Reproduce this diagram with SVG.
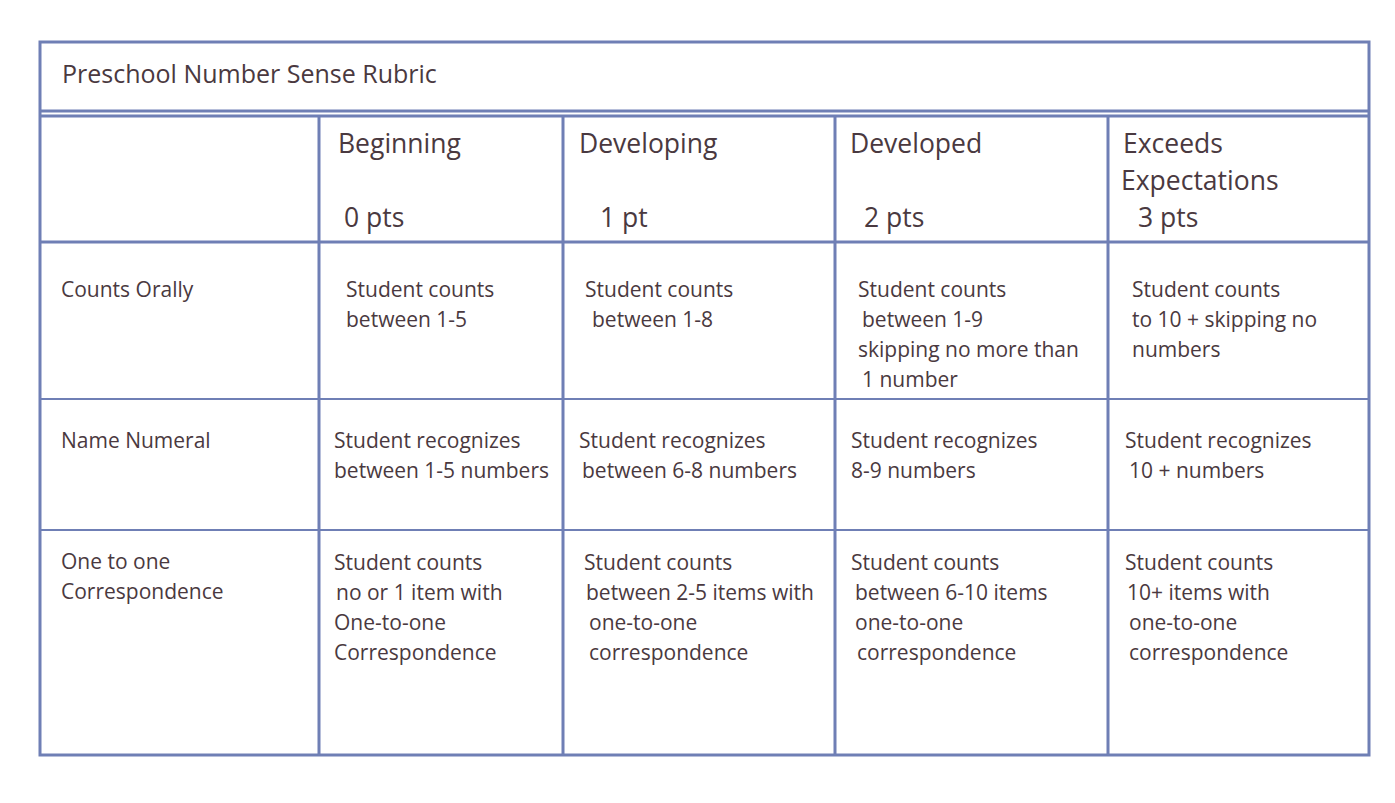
<svg xmlns="http://www.w3.org/2000/svg" width="1395" height="803" viewBox="0 0 1395 803">
<style>
.l{stroke:#6f7fb5;stroke-width:3;fill:none}
.t{font-family:"Open Sans","Liberation Sans",sans-serif;fill:#4a3940;font-size:21px}
.h{font-family:"Open Sans","Liberation Sans",sans-serif;fill:#4a3940;font-size:26.5px}
</style>
<rect width="1395" height="803" fill="#fff"/>
<rect class="l" x="40" y="42" width="1329" height="713"/>
<line class="l" x1="40" y1="111" x2="1369" y2="111"/>
<line class="l" x1="40" y1="116" x2="1369" y2="116"/>
<line class="l" x1="40" y1="242" x2="1369" y2="242"/>
<line class="l" x1="40" y1="399" x2="1369" y2="399" style="stroke-width:2"/>
<line class="l" x1="40" y1="530" x2="1369" y2="530" style="stroke-width:2"/>
<line class="l" x1="319" y1="116" x2="319" y2="755"/>
<line class="l" x1="563" y1="116" x2="563" y2="755"/>
<line class="l" x1="835" y1="116" x2="835" y2="755"/>
<line class="l" x1="1108" y1="116" x2="1108" y2="755"/>
<text class="h" x="62" y="83" style="font-size:25px">Preschool Number Sense Rubric</text>
<text class="h" x="338" y="153">Beginning</text><text class="h" x="344" y="227">0 pts</text>
<text class="h" x="579" y="153">Developing</text><text class="h" x="600" y="227">1 pt</text>
<text class="h" x="850" y="153">Developed</text><text class="h" x="864" y="227">2 pts</text>
<text class="h" x="1123" y="153">Exceeds</text><text class="h" x="1121" y="190">Expectations</text><text class="h" x="1138" y="227">3 pts</text>
<text class="t" x="61" y="297">Counts Orally</text>
<text class="t" x="346" y="297">Student counts</text><text class="t" x="346" y="327">between 1-5</text>
<text class="t" x="585" y="297">Student counts</text><text class="t" x="592" y="327">between 1-8</text>
<text class="t" x="858" y="297">Student counts</text><text class="t" x="862" y="327">between 1-9</text><text class="t" x="858" y="357">skipping no more than</text><text class="t" x="862" y="387">1 number</text>
<text class="t" x="1132" y="297">Student counts</text><text class="t" x="1132" y="327">to 10 + skipping no</text><text class="t" x="1132" y="357">numbers</text>
<text class="t" x="61" y="448">Name Numeral</text>
<text class="t" x="334" y="448">Student recognizes</text><text class="t" x="334" y="478">between 1-5 numbers</text>
<text class="t" x="579" y="448">Student recognizes</text><text class="t" x="582" y="478">between 6-8 numbers</text>
<text class="t" x="851" y="448">Student recognizes</text><text class="t" x="851" y="478">8-9 numbers</text>
<text class="t" x="1125" y="448">Student recognizes</text><text class="t" x="1129" y="478">10 + numbers</text>
<text class="t" x="61" y="569">One to one</text><text class="t" x="61" y="599">Correspondence</text>
<text class="t" x="334" y="570">Student counts</text><text class="t" x="336" y="600">no or 1 item with</text><text class="t" x="334" y="630">One-to-one</text><text class="t" x="334" y="660">Correspondence</text>
<text class="t" x="584" y="570">Student counts</text><text class="t" x="586" y="600">between 2-5 items with</text><text class="t" x="589" y="630">one-to-one</text><text class="t" x="589" y="660">correspondence</text>
<text class="t" x="851" y="570">Student counts</text><text class="t" x="855" y="600">between 6-10 items</text><text class="t" x="855" y="630">one-to-one</text><text class="t" x="857" y="660">correspondence</text>
<text class="t" x="1125" y="570">Student counts</text><text class="t" x="1127" y="600">10+ items with</text><text class="t" x="1129" y="630">one-to-one</text><text class="t" x="1129" y="660">correspondence</text>
</svg>
